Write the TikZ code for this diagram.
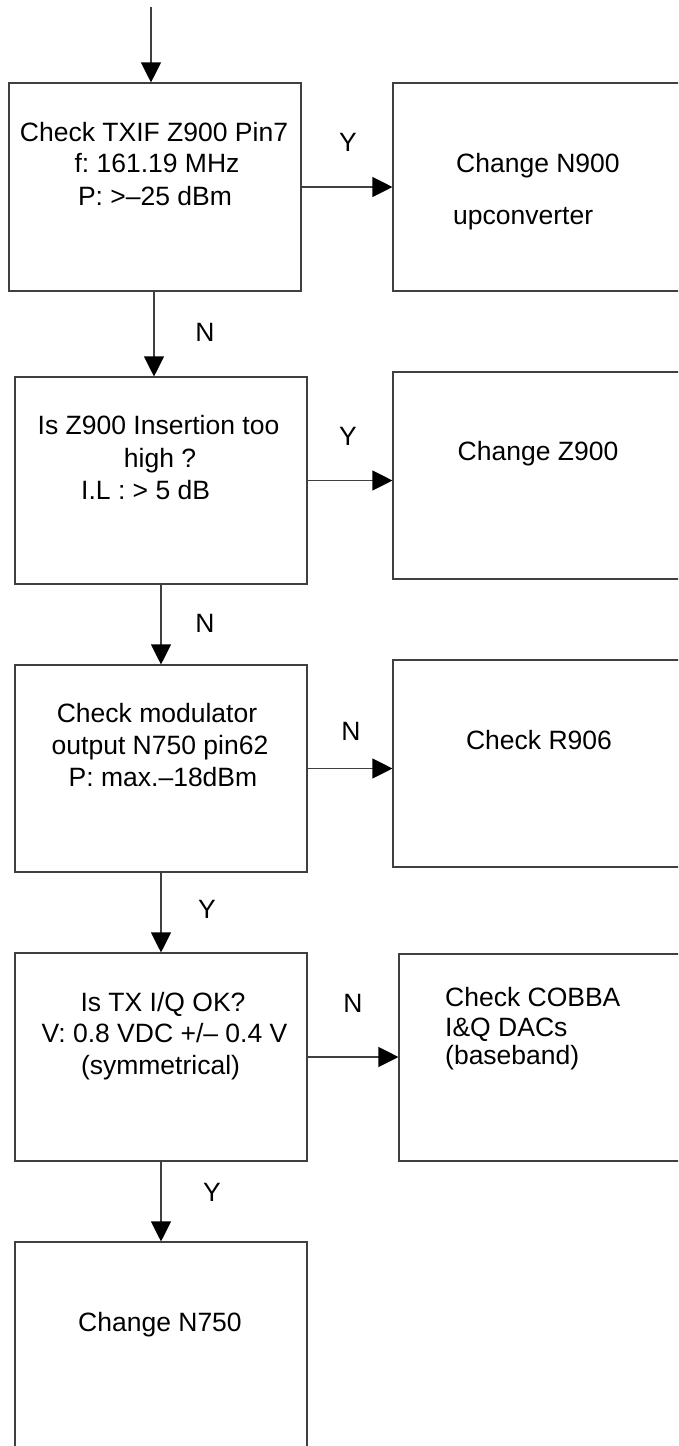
\documentclass[tikz,border=0pt]{standalone}
\usepackage{fontspec}
\setmainfont{Liberation Sans}
\usetikzlibrary{arrows.meta}
\frenchspacing
\begin{document}
\begin{tikzpicture}[x=1pt,y=-1pt,
  box/.style={draw=black!75, line width=1.1pt, minimum width=292pt, minimum height=207pt, inner sep=0pt, anchor=center},
  rbox/.style={box, minimum width=300pt},
  txt/.style={font=\fontsize{26.5}{32}\selectfont, inner sep=0pt, anchor=base},
  ltxt/.style={txt, anchor=base west},
  lab/.style={txt},
  arr/.style={draw=black!75, line width=1.1pt, -{Triangle[length=20pt,width=20pt,fill=black,color=black]}}
]
\useasboundingbox (0,0) rectangle (678,1446);
\clip (0,0) rectangle (678,1446);
% boxes
\node[box, minimum height=208pt] (b1) at (155,187) {};
\node[rbox, minimum height=208pt] (r1) at (543,187) {};
\node[box] (b2) at (161,480.5) {};
\node[rbox] (r2) at (543,475.5) {};
\node[box] (b3) at (161,768.5) {};
\node[rbox] (r3) at (543,763.5) {};
\node[box, minimum height=208pt] (b4) at (161,1057) {};
\node[rbox] (r4) at (549,1057.5) {};
\node[box, minimum height=208pt] (b5) at (161,1346) {};
% texts
\node[txt] (t1a) at (154,141) {Check TXIF Z900 Pin7};
\node[txt] (t1b) at (157,172.5) {f: 161.19 MHz};
\node[txt] (t1c) at (155,205) {P: >–25 dBm};
\node[ltxt] (s1a) at (456,172) {Change N900};
\node[ltxt] (s1b) at (453,224) {upconverter};
\node[txt] (t2a) at (158.5,434) {Is Z900 Insertion too};
\node[txt] (t2b) at (160,467) {high ?};
\node[ltxt] (t2c) at (81,499) {I.L : > 5 dB};
\node[txt] (s2) at (538,460) {Change Z900};
\node[txt] (t3a) at (157,722) {Check modulator};
\node[txt] (t3b) at (160,754) {output N750 pin62};
\node[txt] (t3c) at (163,786) {P: max.–18dBm};
\node[txt] (s3) at (539,749) {Check R906};
\node[txt] (t4a) at (163,1011) {Is TX I/Q OK?};
\node[txt] (t4b) at (164.5,1042) {V: 0.8 VDC +/– 0.4 V};
\node[txt] (t4c) at (160.5,1074) {(symmetrical)};
\node[ltxt] (s4a) at (445,1006) {Check COBBA};
\node[ltxt] (s4b) at (445,1036) {I\&Q DACs};
\node[ltxt] (s4c) at (445,1064) {(baseband)};
\node[txt] (t5) at (160,1331) {Change N750};
% labels
\node[lab] (l1) at (348,151) {Y};
\node[lab] (l2) at (205,341) {N};
\node[lab] (l3) at (348,445) {Y};
\node[lab] (l4) at (205,632) {N};
\node[lab] (l5) at (351,740) {N};
\node[lab] (l6) at (207,918) {Y};
\node[lab] (l7) at (353,1012) {N};
\node[lab] (l8) at (212,1201) {Y};
% connectors
\coordinate (start) at (151,7);
\draw[arr] (start) -- (start |- b1.north);
\draw[arr] (b1.east) -- (r1.west);
\draw[arr] ([xshift=-1pt]b1.south) -- ([xshift=-1pt]b1.south |- b2.north);
\draw[arr] (b2.east) -- (b2.east -| r2.west);
\draw[arr] (b2.south) -- (b3.north);
\draw[arr] (b3.east) -- (b3.east -| r3.west);
\draw[arr] (b3.south) -- (b4.north);
\draw[arr] (b4.east) -- (b4.east -| r4.west);
\draw[arr] (b4.south) -- (b5.north);
\end{tikzpicture}
\end{document}
